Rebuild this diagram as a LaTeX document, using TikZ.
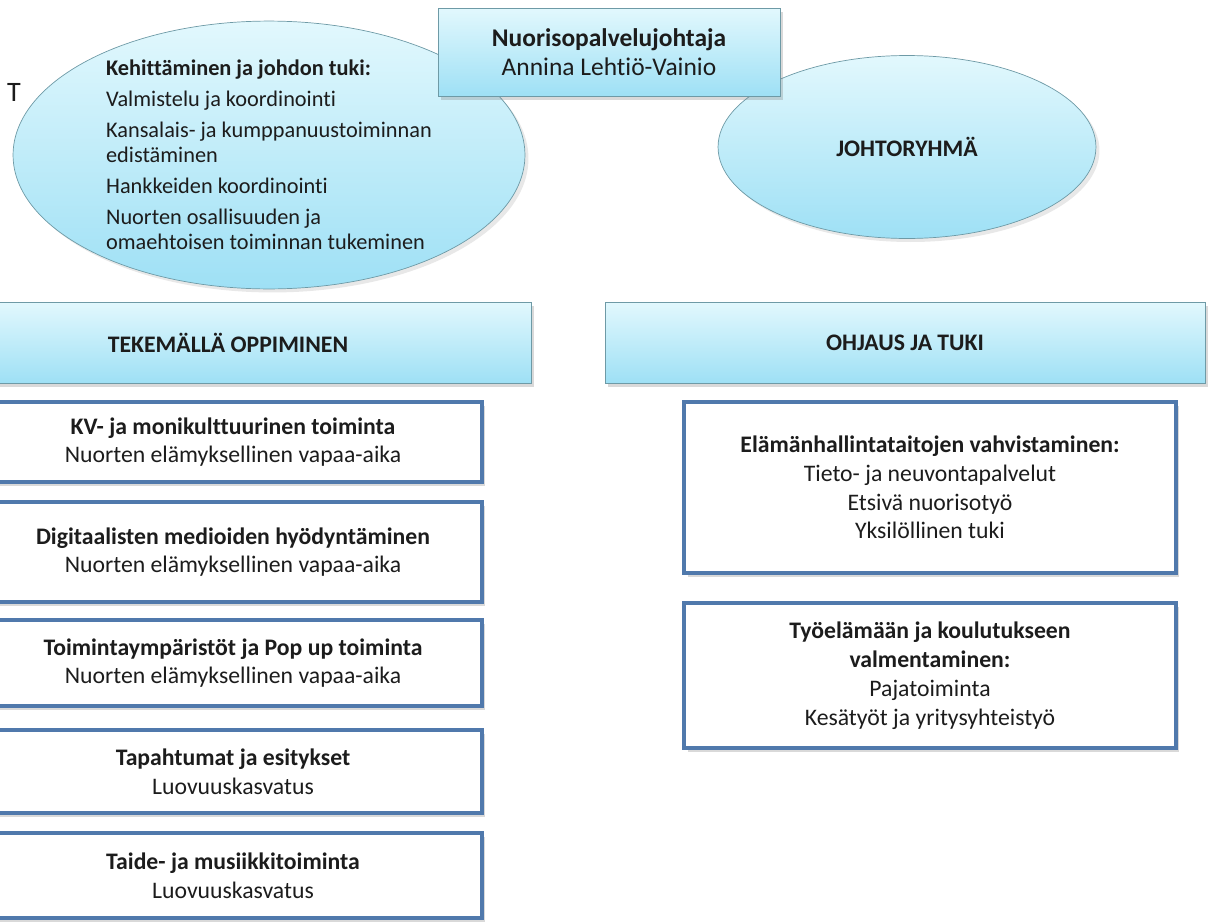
\documentclass[tikz,border=0pt]{standalone}
\usepackage{fontspec}
\setmainfont{Carlito}[Ligatures={NoCommon}]
\usetikzlibrary{shapes.geometric,shadows}

\definecolor{palecyan}{HTML}{E2F8FD}
\definecolor{deepcyan}{HTML}{9EE0F5}
\definecolor{greyteal}{HTML}{6E9AA6}
\definecolor{steelblue}{HTML}{5079AC}
\definecolor{ink}{HTML}{1C1C1C}

\begin{document}
\begin{tikzpicture}[x=0.02cm,y=-0.02cm,
  % light blue gradient shapes
  bubble/.style={ellipse,draw=greyteal,top color=palecyan,bottom color=deepcyan,
    inner sep=0pt,drop shadow={opacity=0.18,shadow xshift=2pt,shadow yshift=-2pt}},
  banner/.style={rectangle,draw=greyteal,top color=palecyan,bottom color=deepcyan,
    inner sep=0pt,align=center,drop shadow={opacity=0.3,shadow xshift=1.5pt,shadow yshift=-2pt}},
  % white unit boxes
  unitbox/.style={rectangle,draw=steelblue,line width=2.4pt,fill=white,inner sep=0pt,
    align=center,text=ink,drop shadow={opacity=0.3,shadow xshift=2pt,shadow yshift=-2.5pt}},
  every node/.style={text=ink,font=\fontsize{13.5}{16.4}\selectfont}]
  \useasboundingbox (0,0) rectangle (1214,923);
  \clip (0,0) rectangle (1214,923);

  \node[anchor=west,font=\fontsize{16}{19}\selectfont] (cut) at (1,92) {T};

  \node[bubble,minimum width=10.24cm,minimum height=5.12cm,align=left,font=\fontsize{12.7}{14.2}\selectfont] (devel) at (269,155)
    {\textbf{Kehittäminen ja johdon tuki:}\\[3.4pt]
     Valmistelu ja koordinointi\\[3.4pt]
     Kansalais- ja kumppanuustoiminnan\\ edistäminen\\[3.4pt]
     Hankkeiden koordinointi\\[3.4pt]
     Nuorten osallisuuden ja\\ omaehtoisen toiminnan tukeminen};

  \node[bubble,minimum width=7.56cm,minimum height=3.66cm,font=\fontsize{13.5}{16}\selectfont\bfseries] (board) at (907,147) {JOHTORYHMÄ};

  \node[banner,minimum width=6.84cm,minimum height=1.76cm,font=\fontsize{14.5}{16.4}\selectfont] (head) at (609,52)
    {\textbf{Nuorisopalvelujohtaja}\\Annina Lehtiö-Vainio};

  \node[banner,minimum width=12.12cm,minimum height=1.62cm,font=\fontsize{13.5}{16}\selectfont\bfseries] (learn) at (228,342.5) {TEKEMÄLLÄ OPPIMINEN};
  \node[banner,minimum width=12cm,minimum height=1.62cm,font=\fontsize{13.5}{16}\selectfont\bfseries] (guide) at (905,342.5) {OHJAUS JA TUKI};

  \node[unitbox,minimum width=9.96cm,minimum height=1.6cm] (kv) at (233,442)
    {\textbf{KV- ja monikulttuurinen toiminta}\\Nuorten elämyksellinen vapaa-aika};
  \node[unitbox,minimum width=9.96cm,minimum height=2cm] (media) at (233,552)
    {\textbf{Digitaalisten medioiden hyödyntäminen}\\Nuorten elämyksellinen vapaa-aika};
  \node[unitbox,minimum width=9.96cm,minimum height=1.72cm] (popup) at (233,663)
    {\textbf{Toimintaympäristöt ja Pop up toiminta}\\Nuorten elämyksellinen vapaa-aika};
  \node[unitbox,minimum width=9.96cm,minimum height=1.66cm] (events) at (233,771.5)
    {\textbf{Tapahtumat ja esitykset}\\Luovuuskasvatus};
  \node[unitbox,minimum width=9.96cm,minimum height=1.7cm] (music) at (233,875.5)
    {\textbf{Taide- ja musiikkitoiminta}\\Luovuuskasvatus};

  \node[unitbox,minimum width=9.84cm,minimum height=3.42cm] (life) at (930,487.5)
    {\textbf{Elämänhallintataitojen vahvistaminen:}\\Tieto- ja neuvontapalvelut\\
     Etsivä nuorisotyö\\Yksilöllinen tuki};
  \node[unitbox,minimum width=9.84cm,minimum height=2.9cm] (work) at (930,675.5)
    {\textbf{Työelämään ja koulutukseen}\\\textbf{valmentaminen:}\\Pajatoiminta\\
     Kesätyöt ja yritysyhteistyö};
\end{tikzpicture}
\end{document}
